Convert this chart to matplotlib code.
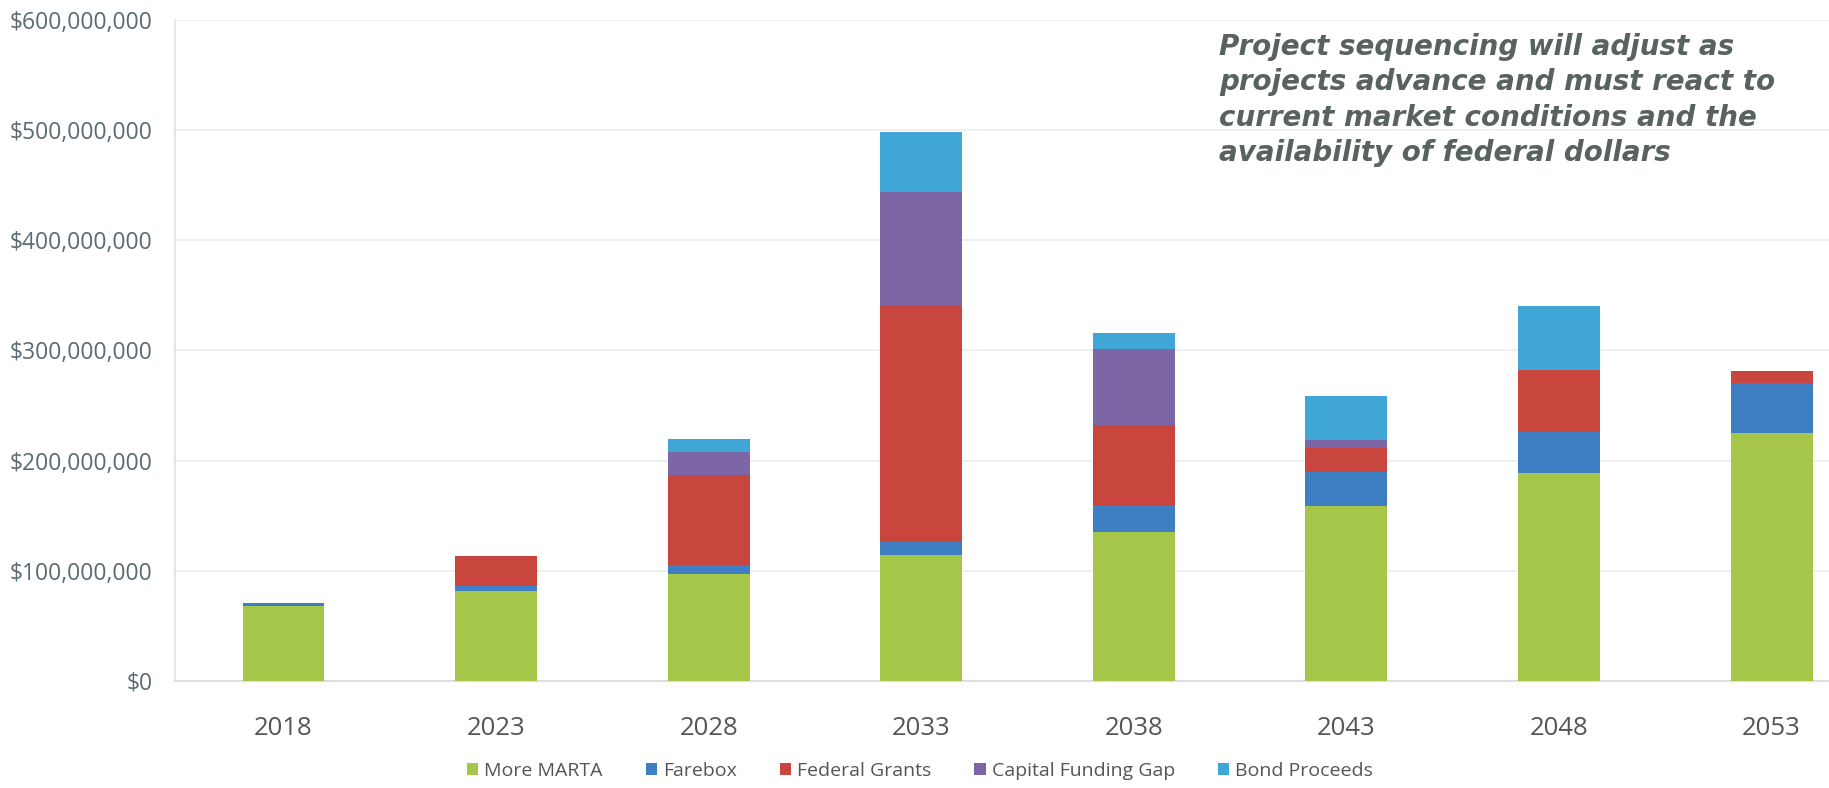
import matplotlib.pyplot as plt
import numpy as np
from matplotlib.ticker import FuncFormatter

# Datos (en millones de dolares)
years = ['2018', '2023', '2028', '2033', '2038', '2043', '2048', '2053']
more_marta = [68, 82, 97, 114, 135, 159, 189, 225]
farebox = [3, 4, 8, 12, 25, 31, 37, 45]
federal_grants = [0, 27, 82, 215, 72, 21, 56, 11]
capital_gap = [0, 0, 21, 103, 69, 8, 0, 0]
bond_proceeds = [0, 0, 12, 54, 15, 40, 58, 0]

series_names = ['More MARTA', 'Farebox', 'Federal Grants', 'Capital Funding Gap', 'Bond Proceeds']
colores = ['#A6C64A', '#3D7FC2', '#C9463E', '#7C66A6', '#3FA6D6']

note = ("Project sequencing will adjust as\n"
        "projects advance and must react to\n"
        "current market conditions and the\n"
        "availability of federal dollars")

fig = plt.figure(figsize=(18.29, 7.88), dpi=100)
ax = fig.add_axes([0.0957, 0.136, 0.9043, 0.8387])

x = np.arange(len(years))
bottom = np.zeros(len(years))
series = [more_marta, farebox, federal_grants, capital_gap, bond_proceeds]
for nombre, vals, c in zip(series_names, series, colores):
    vals = np.array(vals, dtype=float) * 1e6
    ax.bar(x, vals, width=0.385, bottom=bottom, color=c, label=nombre, zorder=3)
    bottom += vals

ax.set_ylim(0, 600e6)
ax.set_xlim(-0.51, 7.27)
ax.set_yticks(np.arange(0, 600e6 + 1, 100e6))
ax.yaxis.set_major_formatter(FuncFormatter(lambda v, p: f'${v:,.0f}'))
ax.set_xticks(x)
ax.set_xticklabels(years)

ax.grid(axis='y', color='#ECECEC', linewidth=1.2, zorder=0)
for s in ['top', 'right']:
    ax.spines[s].set_visible(False)
ax.spines['left'].set_color('#E0E0E0')
ax.spines['bottom'].set_color('#D9D9D9')
ax.spines['left'].set_linewidth(1.2)
ax.spines['bottom'].set_linewidth(1.2)
ax.tick_params(axis='y', length=0, labelsize=16.5, labelcolor='#5A6B72', pad=16)
ax.tick_params(axis='x', length=0, labelsize=18.5, labelcolor='#555555', pad=25)
for lab in ax.get_yticklabels() + ax.get_xticklabels():
    lab.set_family('Open Sans')

fig.text(0.6665, 0.958, note, fontsize=20, fontstyle='italic', fontweight='bold',
         family='DejaVu Sans', color='#58625F', va='top', ha='left', linespacing=1.33)

leg = fig.legend(loc='lower center', bbox_to_anchor=(0.503, -0.012), ncol=5, frameon=False,
                 prop={'family': 'Open Sans', 'size': 14}, handlelength=0.6, handleheight=0.6,
                 handletextpad=0.3, columnspacing=2.2, labelcolor='#555555')

plt.savefig('out.png', dpi=100)
